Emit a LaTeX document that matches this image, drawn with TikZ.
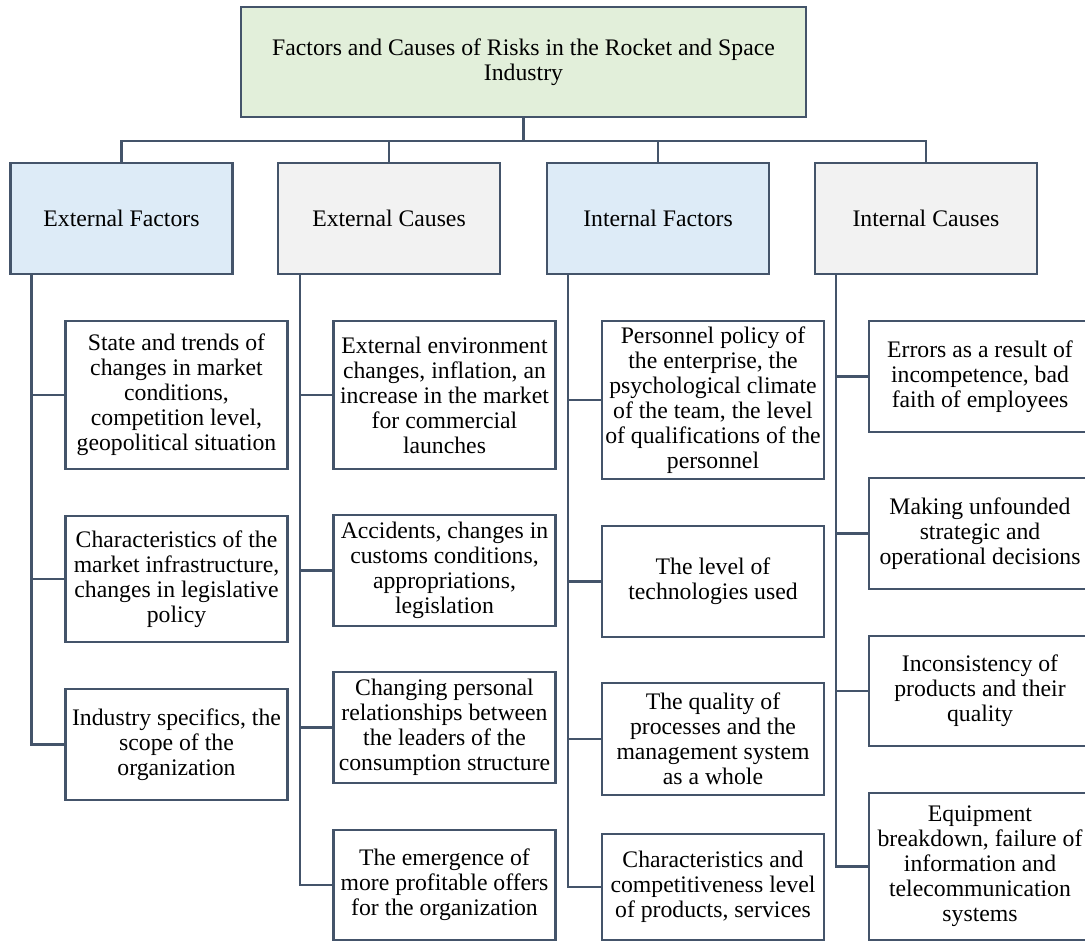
\documentclass[tikz,border=0pt]{standalone}
\usepackage{fontspec}
\setmainfont{Liberation Serif}
\usepackage{tikz}
\usetikzlibrary{calc}
\definecolor{frame-slate}{RGB}{68,84,106}
\definecolor{top-green}{RGB}{226,239,218}
\definecolor{head-blue}{RGB}{221,235,247}
\definecolor{head-gray}{RGB}{242,242,242}
\tikzstyle{box}=[draw=frame-slate, line width=1.4pt, rectangle, align=center, inner xsep=0pt, inner ysep=1pt, font=\fontsize{13.5}{14.2}\selectfont]
\tikzstyle{topbox}=[box, fill=top-green, minimum width=11.3cm, minimum height=2.2cm]
\tikzstyle{factorbox}=[box, fill=head-blue, minimum width=4.44cm, minimum height=2.22cm]
\tikzstyle{causebox}=[box, fill=head-gray, minimum width=4.44cm, minimum height=2.22cm]
\tikzstyle{itembox}=[box, fill=white, minimum width=4.44cm]
\tikzstyle{link}=[draw=frame-slate, line width=1.4pt]
\begin{document}
\begin{tikzpicture}[x=0.02cm, y=-0.02cm]
	\useasboundingbox (0,0) rectangle (1085,941);
	\node[topbox] (top) at (523.5,62) {Factors and Causes of Risks in the Rocket and Space\\Industry};
	\node[factorbox] (ef) at (121.5,218.5) {External Factors};
	\node[causebox] (ec) at (389,218.5) {External Causes};
	\node[factorbox] (if) at (658,218.5) {Internal Factors};
	\node[causebox] (ic) at (926,218.5) {Internal Causes};
	\coordinate (bus) at (523.5,141);
	\draw[link] (top.south) -- (bus);
	\draw[link] (ef.north) |- (bus) -| (ic.north);
	\draw[link] (ec.north) -- (ec.north |- bus);
	\draw[link] (if.north) -- (if.north |- bus);
	\node[itembox, minimum height=2.96cm] (ef1) at (176.5,395) {State and trends of\\changes in market\\conditions,\\competition level,\\geopolitical situation};
	\node[itembox, minimum height=2.52cm] (ef2) at (176.5,579) {Characteristics of the\\market infrastructure,\\changes in legislative\\policy};
	\node[itembox, minimum height=2.22cm] (ef3) at (176.5,744.5) {Industry specifics, the\\scope of the\\organization};
	\node[itembox, minimum height=2.96cm] (ec1) at (444.5,395) {External environment\\changes, inflation, an\\increase in the market\\for commercial\\launches};
	\node[itembox, minimum height=2.22cm] (ec2) at (444.5,570.5) {Accidents, changes in\\customs conditions,\\appropriations,\\legislation};
	\node[itembox, minimum height=2.22cm] (ec3) at (444.5,727.5) {Changing personal\\relationships between\\the leaders of the\\consumption structure};
	\node[itembox, minimum height=2.2cm] (ec4) at (444.5,885) {The emergence of\\more profitable offers\\for the organization};
	\node[itembox, minimum height=3.16cm] (if1) at (713,400) {Personnel policy of\\the enterprise, the\\psychological climate\\of the team, the level\\of qualifications of the\\personnel};
	\node[itembox, minimum height=2.22cm] (if2) at (713,581.5) {The level of\\technologies used};
	\node[itembox, minimum height=2.24cm] (if3) at (713,739) {The quality of\\processes and the\\management system\\as a whole};
	\node[itembox, minimum height=2.12cm] (if4) at (713,887) {Characteristics and\\competitiveness level\\of products, services};
	\node[itembox, minimum height=2.22cm] (ic1) at (980,376.5) {Errors as a result of\\incompetence, bad\\faith of employees};
	\node[itembox, minimum height=2.22cm] (ic2) at (980,533.5) {Making unfounded\\strategic and\\operational decisions};
	\node[itembox, minimum height=2.2cm] (ic3) at (980,691) {Inconsistency of\\products and their\\quality};
	\node[itembox, minimum height=2.94cm] (ic4) at (980,866.5) {Equipment\\breakdown, failure of\\information and\\telecommunication\\systems};
	\coordinate (eft) at ($(ef.south west)+(22,0)$);
	\coordinate (ect) at ($(ec.south west)+(23,0)$);
	\coordinate (ift) at ($(if.south west)+(22,0)$);
	\coordinate (ict) at ($(ic.south west)+(22,0)$);
	\draw[link] (eft) |- (ef3.west);
	\draw[link] (ect) |- (ec4.west);
	\draw[link] (ift) |- (if4.west);
	\draw[link] (ict) |- (ic4.west);
	\foreach \i in {1,2} \draw[link] (ef\i.west) -- (ef\i.west -| eft);
	\foreach \i in {1,2,3} {
		\draw[link] (ec\i.west) -- (ec\i.west -| ect);
		\draw[link] (if\i.west) -- (if\i.west -| ift);
		\draw[link] (ic\i.west) -- (ic\i.west -| ict);
	}
\end{tikzpicture}
\end{document}
